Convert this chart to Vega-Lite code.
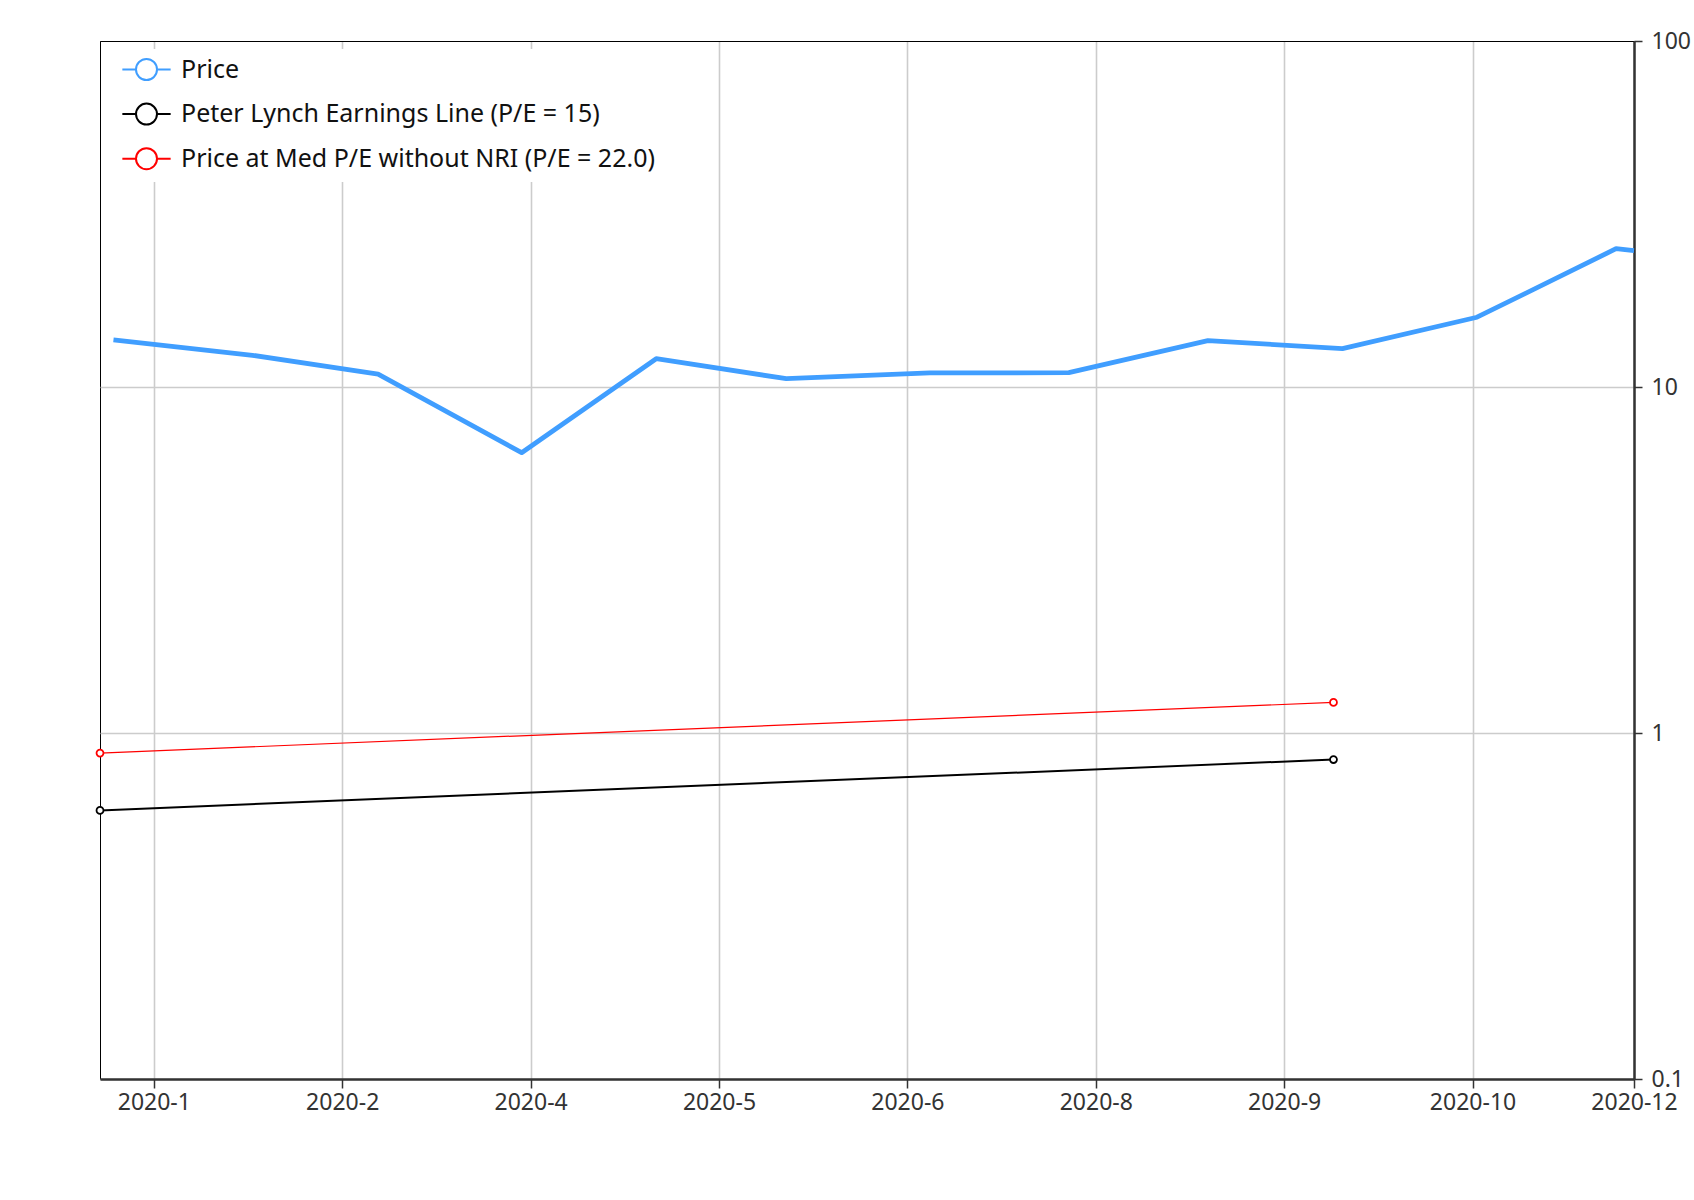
{
  "$schema": "https://vega.github.io/schema/vega-lite/v6.json",
  "width": 1534,
  "height": 1038,
  "autosize": "none",
  "padding": {"left": 100, "top": 41, "right": 60, "bottom": 121},
  "background": "#ffffff",
  "config": {
    "font": "Noto Sans",
    "view": {"stroke": "#000000", "strokeWidth": 1},
    "axis": {
      "gridColor": "#cccccc",
      "gridWidth": 1.6,
      "domainColor": "#333333",
      "domainWidth": 2.5,
      "tickColor": "#333333",
      "tickWidth": 1.5,
      "labelColor": "#333333",
      "title": null
    }
  },
  "data": {
    "values": [
      {"date": "2019-12-31", "value": 13.68, "series": "Price"},
      {"date": "2020-01-31", "value": 12.35, "series": "Price"},
      {"date": "2020-02-28", "value": 10.9, "series": "Price"},
      {"date": "2020-03-31", "value": 6.46, "series": "Price"},
      {"date": "2020-04-30", "value": 12.07, "series": "Price"},
      {"date": "2020-05-29", "value": 10.57, "series": "Price"},
      {"date": "2020-06-30", "value": 10.98, "series": "Price"},
      {"date": "2020-07-31", "value": 11.0, "series": "Price"},
      {"date": "2020-08-31", "value": 13.61, "series": "Price"},
      {"date": "2020-09-30", "value": 12.91, "series": "Price"},
      {"date": "2020-10-30", "value": 15.91, "series": "Price"},
      {"date": "2020-11-30", "value": 25.1, "series": "Price"},
      {"date": "2020-12-04", "value": 24.8, "series": "Price"},
      {"date": "2019-12-28", "value": 0.5975, "series": "Peter Lynch Earnings Line (P/E = 15)"},
      {"date": "2020-09-28", "value": 0.838, "series": "Peter Lynch Earnings Line (P/E = 15)"},
      {"date": "2019-12-28", "value": 0.875, "series": "Price at Med P/E without NRI (P/E = 22.0)"},
      {"date": "2020-09-28", "value": 1.226, "series": "Price at Med P/E without NRI (P/E = 22.0)"}
    ]
  },
  "encoding": {
    "x": {
      "field": "date",
      "type": "temporal",
      "scale": {
        "type": "utc",
        "nice": false,
        "domain": [
          {"year": 2019, "month": 12, "date": 28, "utc": true},
          {"year": 2020, "month": 12, "date": 4, "utc": true}
        ]
      },
      "axis": {
        "orient": "bottom",
        "format": "%Y-%-m",
        "values": [
          {"year": 2020, "month": 1, "date": 9, "utc": true},
          {"year": 2020, "month": 2, "date": 20, "utc": true},
          {"year": 2020, "month": 4, "date": 2, "utc": true},
          {"year": 2020, "month": 5, "date": 14, "utc": true},
          {"year": 2020, "month": 6, "date": 25, "utc": true},
          {"year": 2020, "month": 8, "date": 6, "utc": true},
          {"year": 2020, "month": 9, "date": 17, "utc": true},
          {"year": 2020, "month": 10, "date": 29, "utc": true},
          {"year": 2020, "month": 12, "date": 4, "utc": true}
        ],
        "labelFontSize": 23,
        "tickSize": 9,
        "labelPadding": 3,
        "labelFlush": false,
        "labelOverlap": false
      }
    },
    "y": {
      "field": "value",
      "type": "quantitative",
      "scale": {"type": "log", "domain": [0.1, 100], "nice": false},
      "axis": {
        "orient": "right",
        "values": [0.1, 1, 10, 100],
        "format": "~g",
        "labelFontSize": 23,
        "tickSize": 8,
        "labelPadding": 9,
        "labelFlush": false,
        "labelOverlap": false,
        "gridColor": {"condition": {"test": "datum.value >= 100", "value": "#000000"}, "value": "#cccccc"},
        "gridWidth": {"condition": {"test": "datum.value >= 100", "value": 1}, "value": 1.6}
      }
    }
  },
  "layer": [
    {
      "transform": [{"filter": "datum.series === 'Price'"}],
      "mark": {"type": "line", "strokeWidth": 4.8, "strokeJoin": "round"},
      "encoding": {
        "color": {
          "field": "series",
          "type": "nominal",
          "scale": {
            "domain": ["Price", "Peter Lynch Earnings Line (P/E = 15)", "Price at Med P/E without NRI (P/E = 22.0)"],
            "range": ["#409eff", "#000000", "#ff0000"]
          },
          "legend": {
            "title": null,
            "orient": "none",
            "legendX": 26,
            "legendY": 8,
            "padding": 8,
            "fillColor": "#ffffff",
            "labelFontSize": 25,
            "labelColor": "#111111",
            "labelLimit": 800,
            "symbolType": "M-2.3,0L-1,0M1,0L2.3,0M1,0A1,1 0 1,1 -1,0A1,1 0 1,1 1,0",
            "symbolSize": 441,
            "symbolStrokeWidth": 2,
            "labelOffset": 22,
            "rowPadding": 15.6,
            "encode": {"symbols": {"update": {"fill": {"value": "#ffffff"}, "strokeWidth": {"value": 2}}}}
          }
        }
      }
    },
    {
      "transform": [{"filter": "datum.series === 'Peter Lynch Earnings Line (P/E = 15)'"}],
      "mark": {"type": "line", "strokeWidth": 2, "color": "#000000"}
    },
    {
      "transform": [{"filter": "datum.series === 'Price at Med P/E without NRI (P/E = 22.0)'"}],
      "mark": {"type": "line", "strokeWidth": 1.2, "color": "#ff0000"}
    },
    {
      "transform": [{"filter": "datum.series !== 'Price'"}],
      "mark": {"type": "point", "shape": "circle", "size": 48, "fill": "#ffffff", "filled": true, "fillOpacity": 1, "strokeWidth": 1.8, "opacity": 1},
      "encoding": {
        "stroke": {
          "field": "series",
          "type": "nominal",
          "scale": {
            "domain": ["Peter Lynch Earnings Line (P/E = 15)", "Price at Med P/E without NRI (P/E = 22.0)"],
            "range": ["#000000", "#ff0000"]
          },
          "legend": null
        }
      }
    }
  ]
}
